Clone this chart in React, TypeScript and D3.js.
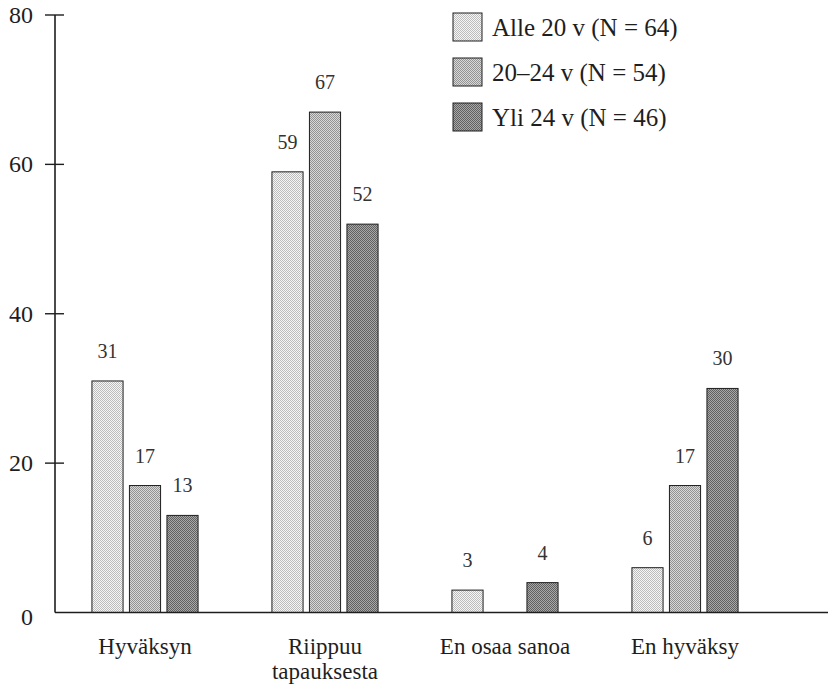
import React from "react";
import * as d3 from "d3";

const categories = ["Hyväksyn", "Riippuu\ntapauksesta", "En osaa sanoa", "En hyväksy"];
const seriesNames = ["Alle 20 v (N = 64)", "20–24 v (N = 54)", "Yli 24 v (N = 46)"];
const alle20 = [31, 59, 3, 6];
const v20to24: (number | null)[] = [17, 67, null, 17];
const yli24 = [13, 52, 4, 30];
const yTicks = [0, 20, 40, 60, 80];

const seriesValues = [alle20, v20to24, yli24];

const W = 828;
const H = 684;
const FONT = "Liberation Serif";
const INK = "#1e1e1e";

const patterns = [
  { id: "pLight", bg: "#f6f6f6", dot: "#bcbcbc" },
  { id: "pMid", bg: "#d8d8d8", dot: "#939393" },
  { id: "pDark", bg: "#a8a8a8", dot: "#606060" },
];

export default function App() {
  const x0 = d3.scaleBand<string>().domain(categories).range([55, 775]).padding(0);
  const x1 = d3
    .scaleBand<number>()
    .domain([0, 1, 2])
    .range([-56.25, 56.25])
    .paddingInner(0.17)
    .paddingOuter(0.085);
  const y = d3.scaleLinear().domain([0, 80]).range([612.5, 15]);

  const axisX = 55;
  const baseY = y(0);

  return (
    <svg
      width={W}
      height={H}
      style={{ position: "absolute", left: 0, top: 0, background: "#fff" }}
    >
      <defs>
        {patterns.map((p) => (
          <pattern key={p.id} id={p.id} patternUnits="userSpaceOnUse" width={2} height={2}>
            <rect width={2} height={2} fill={p.bg} />
            <rect x={0} y={0} width={1} height={1} fill={p.dot} />
            <rect x={1} y={1} width={1} height={1} fill={p.dot} />
          </pattern>
        ))}
      </defs>

      {/* bars */}
      {categories.map((c, ci) => {
        const cx = (x0(c) as number) + x0.bandwidth() / 2;
        return (
          <g key={c}>
            {seriesValues.map((vals, si) => {
              const v = vals[ci];
              if (v === null || v === undefined) return null;
              const bx = cx + (x1(si) as number);
              const by = y(v);
              return (
                <g key={si}>
                  <rect
                    x={bx}
                    y={by}
                    width={x1.bandwidth()}
                    height={baseY - by}
                    fill={`url(#${patterns[si].id})`}
                    stroke={INK}
                    strokeWidth={1}
                  />
                  <text
                    x={bx + x1.bandwidth() / 2}
                    y={by - 23}
                    textAnchor="middle"
                    fontSize={20}
                    fill="#333"
                    fontFamily={FONT}
                  >
                    {v}
                  </text>
                </g>
              );
            })}
          </g>
        );
      })}

      {/* axes */}
      <line x1={axisX} x2={axisX} y1={y(80)} y2={baseY} stroke={INK} strokeWidth={1.6} />
      <line x1={axisX} x2={W} y1={baseY} y2={baseY} stroke={INK} strokeWidth={1.6} />
      {yTicks.map((t) => (
        <g key={t}>
          {t > 0 && (
            <line x1={45} x2={64} y1={y(t)} y2={y(t)} stroke={INK} strokeWidth={1.4} />
          )}
          <text
            x={33}
            y={y(t) + (t === 0 ? 12 : 8)}
            textAnchor="end"
            fontSize={24}
            fill={INK}
            fontFamily={FONT}
          >
            {t}
          </text>
        </g>
      ))}

      {/* category labels */}
      {categories.map((c) => {
        const cx = (x0(c) as number) + x0.bandwidth() / 2;
        return (
          <text
            key={c}
            x={cx}
            y={654}
            textAnchor="middle"
            fontSize={23}
            fill={INK}
            fontFamily={FONT}
          >
            {c.split("\n").map((line, i) => (
              <tspan key={i} x={cx} dy={i === 0 ? 0 : 25}>
                {line}
              </tspan>
            ))}
          </text>
        );
      })}

      {/* legend */}
      {seriesNames.map((n, i) => {
        const cy = 27 + i * 45;
        return (
          <g key={n}>
            <rect
              x={453}
              y={cy - 14}
              width={29}
              height={28}
              fill={`url(#${patterns[i].id})`}
              stroke={INK}
              strokeWidth={1}
            />
            <text x={492} y={cy + 9} fontSize={25} fill={INK} fontFamily={FONT}>
              {n}
            </text>
          </g>
        );
      })}
    </svg>
  );
}
